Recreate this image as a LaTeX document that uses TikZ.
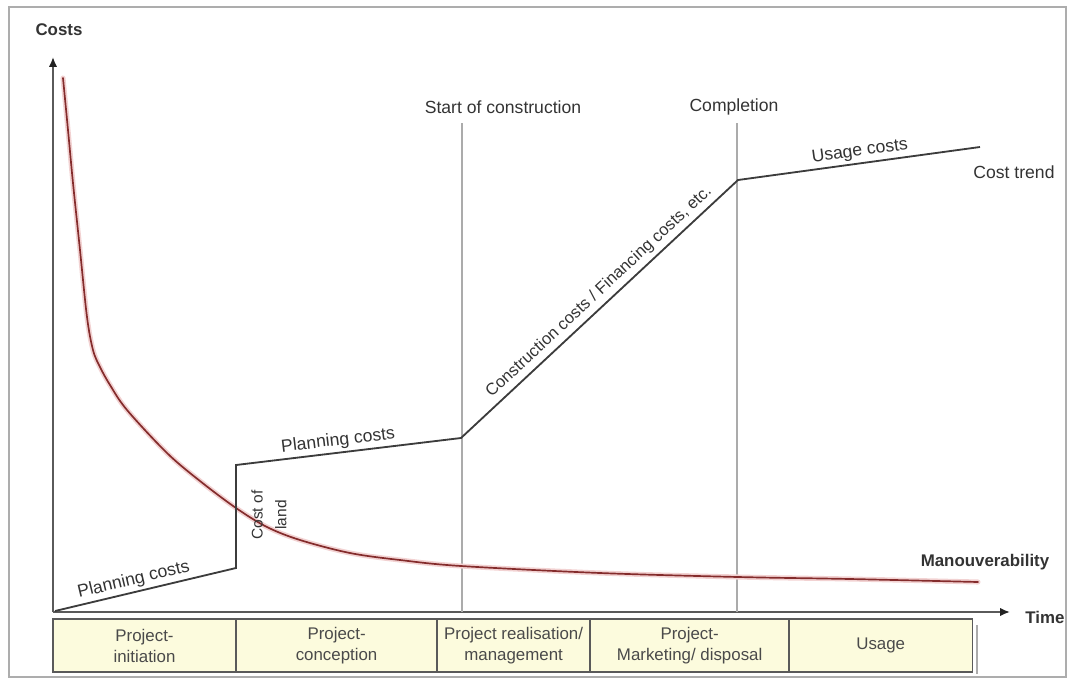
\documentclass[tikz,border=0pt]{standalone}
\usepackage{fontspec}
\setmainfont{Liberation Sans}
\usetikzlibrary{arrows.meta}

\definecolor{costline}{HTML}{3C3C3C}
\definecolor{axisgray}{HTML}{5A5A5A}
\definecolor{tipgray}{HTML}{222222}
\definecolor{guide}{HTML}{ABABAB}
\definecolor{framegray}{HTML}{ADADAD}
\definecolor{curvered}{HTML}{842C2C}
\definecolor{curvehalo}{HTML}{F2D2D2}
\definecolor{phasefill}{HTML}{FCFBDD}
\definecolor{labeltext}{HTML}{333333}
\definecolor{phasetext}{HTML}{4A4A4A}

\begin{document}
\begin{tikzpicture}[x=0.025cm, y=-0.025cm,
  lbl/.style={font=\fontsize{12.5}{15}\selectfont, text=labeltext, inner sep=2pt},
  boldlbl/.style={font=\fontsize{12}{14}\selectfont\bfseries, text=labeltext, inner sep=1pt},
  phase/.style={draw=axisgray, line width=1pt, fill=phasefill, minimum height=1.325cm,
    text=phasetext, font=\fontsize{12}{15}\selectfont, align=center,
    inner sep=0pt, outer sep=0pt, anchor=north west},
  axis/.style={draw=axisgray, line width=1.3pt, -{Latex[length=7pt,width=6pt,color=tipgray]}},
  guideline/.style={draw=guide, line width=1pt},
  trend/.style={draw=costline, line width=1.3pt, line join=miter},
]
\useasboundingbox (0,0) rectangle (1067,680);

% outer frame
\draw[framegray, line width=1.8pt] (9,7) rectangle (1066,677);

% axes
\coordinate (O) at (53,612);
\coordinate (ytip) at (53,57);
\coordinate (xtip) at (1010,612);
\draw[axis] (O) -- (ytip);
\draw[axis] (O) -- (xtip);
\node[boldlbl] (costs) at (59,30) {Costs};
\node[boldlbl] (time) at (1045,617) {Time};

% milestone guides
\coordinate (scTop) at (462,123);
\coordinate (scBase) at (462,612);
\coordinate (cpTop) at (737,123);
\coordinate (cpBase) at (737,612);
\draw[guideline] (scTop) -- (scBase);
\draw[guideline] (cpTop) -- (cpBase);
\node[lbl] (start) at (503,107) {Start of construction};
\node[lbl] (completion) at (734,107) {Completion};

% manouverability curve
\draw[curvehalo, line width=3.6pt, line cap=round]
  plot[smooth, tension=0.55] coordinates {(63,78) (68,130) (73,183) (80,250) (87,317)
  (93,350) (100,367) (110,385) (127,410) (167,453) (200,481) (236,508) (267,527)
  (300,540) (350,553) (400,560) (461,566) (600,573) (738,577) (850,579) (978,582)};
\draw[curvered, line width=1.2pt, line cap=round]
  plot[smooth, tension=0.55] coordinates {(63,78) (68,130) (73,183) (80,250) (87,317)
  (93,350) (100,367) (110,385) (127,410) (167,453) (200,481) (236,508) (267,527)
  (300,540) (350,553) (400,560) (461,566) (600,573) (738,577) (850,579) (978,582)};
\node[boldlbl] (manoeuv) at (985,562) {Manouverability};

% cost trend
\coordinate (c0) at (55,611);
\coordinate (c1) at (236,568);
\coordinate (c2) at (236,465);
\coordinate (c3) at (461,438);
\coordinate (c4) at (738,180);
\coordinate (c5) at (980,147);
\draw[trend] (c0)
  -- node[lbl, sloped, above, pos=0.45] (plan1) {Planning costs} (c1)
  -- (c2)
  -- node[lbl, sloped, above, pos=0.46] (plan2) {Planning costs} (c3)
  -- node[lbl, sloped, above, pos=0.53, inner sep=3pt, font=\fontsize{11.8}{14}\selectfont] (constr) {Construction costs / Financing costs, etc.} (c4)
  -- node[lbl, sloped, above, pos=0.51] (usage) {Usage costs} (c5);
\node[lbl, rotate=90, align=center, font=\fontsize{11}{17}\selectfont] (land) at (269,515) {Cost of\\land};
\node[lbl] (trendlbl) at (1014,172) {Cost trend};

% project phases
\node[phase, minimum width=4.575cm] (ph1) at (53,619) {Project-\\initiation};
\node[phase, minimum width=5.025cm] (ph2) at (ph1.north east) {Project-\\conception};
\node[phase, minimum width=3.825cm] (ph3) at (ph2.north east) {Project realisation/\\management};
\node[phase, minimum width=4.975cm] (ph4) at (ph3.north east) {Project-\\Marketing/ disposal};
\node[phase, minimum width=4.575cm] (ph5) at (ph4.north east) {Usage};
\draw[guide, line width=1.3pt] ([shift={(5,6)}]ph5.north east) -- ([shift={(5,2)}]ph5.south east);
\end{tikzpicture}
\end{document}
